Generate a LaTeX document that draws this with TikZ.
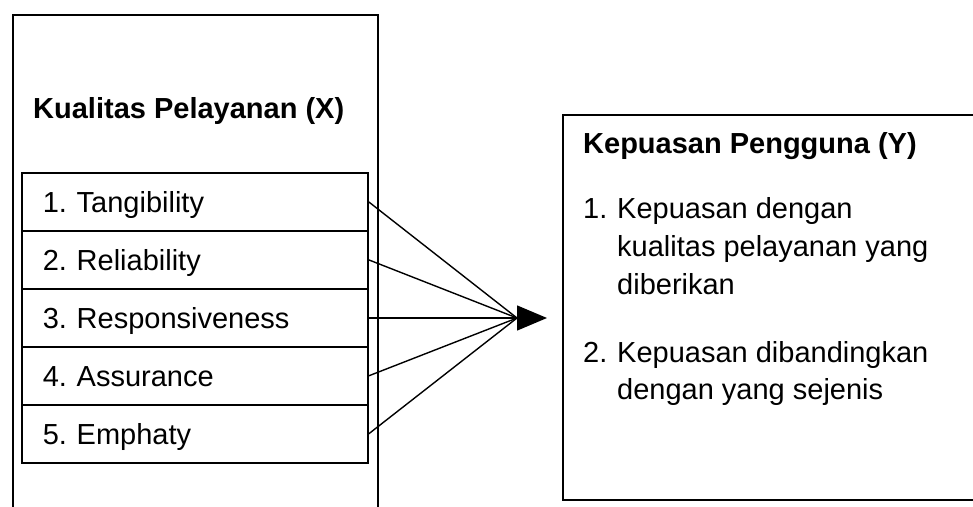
\documentclass[tikz,border=0pt]{standalone}
\usepackage{fontspec}
\setmainfont{Liberation Sans}
\usetikzlibrary{arrows.meta}
\frenchspacing
\begin{document}
\begin{tikzpicture}[x=1pt,y=-1pt,
  frame/.style={draw, line width=1.7pt, inner sep=0pt, anchor=north west},
  rowbox/.style={draw, line width=1.7pt, anchor=north west, inner xsep=21pt, inner ysep=0pt,
    text width=304pt, minimum height=58pt, align=left, text height=20.8pt, text depth=0pt,
    font=\fontsize{29}{35}\selectfont},
  txt/.style={anchor=base west, inner sep=0pt, font=\fontsize{29}{35}\selectfont},
  btxt/.style={txt, font=\fontsize{29}{35}\selectfont\bfseries},
  link/.style={line width=1.4pt}
]
\useasboundingbox (0,0) rectangle (973,506);
% outer frames
\node[frame, minimum width=365pt, minimum height=530pt] (X) at (12,14) {};
\node[frame, minimum width=430pt, minimum height=385pt] (Y) at (562,114) {};
% left title
\node[btxt] (tx) at (33,118.5) {Kualitas Pelayanan (X)};
% rows
\node[rowbox] (r1) at (21,172) {1. Tangibility};
\node[rowbox] (r2) at (21,230) {2. Reliability};
\node[rowbox] (r3) at (21,288) {3. Responsiveness};
\node[rowbox] (r4) at (21,346) {4. Assurance};
\node[rowbox] (r5) at (21,404) {5. Emphaty};
% right texts
\node[btxt] (ty) at (583,153) {Kepuasan Pengguna (Y)};
\node[txt] (n1) at (583,218) {1.};
\node[txt] (a1) at (617,218) {Kepuasan dengan};
\node[txt] (a2) at (617,256) {kualitas pelayanan yang};
\node[txt] (a3) at (617,294) {diberikan};
\node[txt] (n2) at (583,362) {2.};
\node[txt] (b1) at (617,362) {Kepuasan dibandingkan};
\node[txt] (b2) at (617,399) {dengan yang sejenis};
% connectors
\coordinate (m) at (517,318);
\coordinate (tip) at (547,318);
\draw[link] (r1.east) -- (m);
\draw[link] (r2.east) -- (m);
\draw[link] (r4.east) -- (m);
\draw[link] (r5.east) -- (m);
\draw[link, -{Triangle[length=30pt,width=25pt]}] (r3.east |- m) -- (tip);
\end{tikzpicture}
\end{document}
